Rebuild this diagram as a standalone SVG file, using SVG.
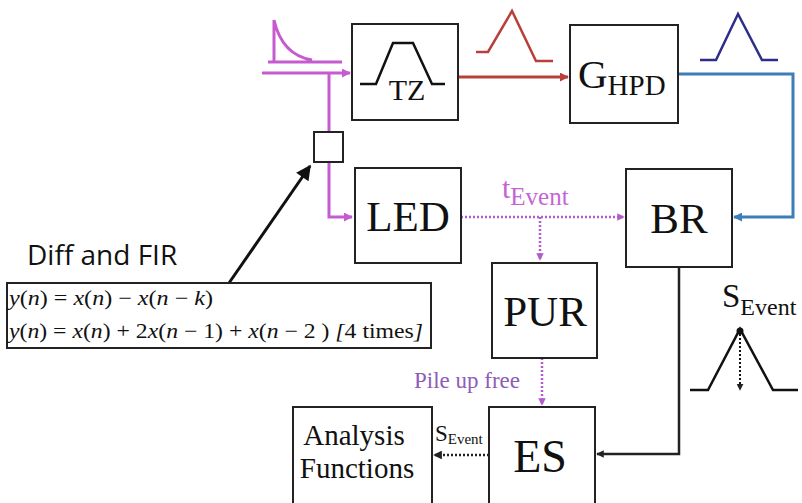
<svg xmlns="http://www.w3.org/2000/svg" width="802" height="503" viewBox="0 0 802 503">
<style>
.box{fill:#fff;stroke:#222;stroke-width:2}
.t{font-family:"Liberation Serif",serif;fill:#111}
.big{font-size:43px}
.mag{stroke:#c65bcf;stroke-width:3;fill:none}
.dot{stroke:#b25ccc;stroke-width:2.5;fill:none;stroke-dasharray:2 2}
.eq{font-family:"Liberation Serif",serif;font-size:21px;fill:#111}
.i{font-style:italic}
</style>
<defs>
<marker id="am" viewBox="0 0 10 10" refX="9" refY="5" markerWidth="3" markerHeight="3" orient="auto"><path d="M0,0L10,5L0,10z" fill="#c65bcf"/></marker>
<marker id="ar" viewBox="0 0 10 10" refX="9" refY="5" markerWidth="3" markerHeight="3" orient="auto"><path d="M0,0L10,5L0,10z" fill="#b8403a"/></marker>
<marker id="ab" viewBox="0 0 10 10" refX="9" refY="5" markerWidth="3" markerHeight="3" orient="auto"><path d="M0,0L10,5L0,10z" fill="#3d7db8"/></marker>
<marker id="ak" viewBox="0 0 10 10" refX="9" refY="5" markerWidth="3" markerHeight="3" orient="auto"><path d="M0,0L10,5L0,10z" fill="#222"/></marker>
<marker id="ap" viewBox="0 0 10 10" refX="9" refY="5" markerWidth="3" markerHeight="3" orient="auto"><path d="M0,0L10,5L0,10z" fill="#b25ccc"/></marker>
<marker id="akd" viewBox="0 0 10 10" refX="9" refY="5" markerWidth="3.5" markerHeight="3.5" orient="auto"><path d="M0,0L10,5L0,10z" fill="#222"/></marker>
<marker id="abig" viewBox="0 0 10 10" refX="9" refY="5" markerWidth="6" markerHeight="5" orient="auto"><path d="M0,0L10,5L0,10z" fill="#111"/></marker>
</defs>

<g id="connectors">
  <path class="mag" d="M262,73H350" marker-end="url(#am)"/>
  <path class="mag" d="M329,73V132"/>
  <path class="mag" d="M329,162V217H352" marker-end="url(#am)"/>
  <path d="M458,77H568" stroke="#b8403a" stroke-width="3" fill="none" marker-end="url(#ar)"/>
  <path d="M679,74H793V217H734" stroke="#3d7db8" stroke-width="3" fill="none" marker-end="url(#ab)"/>
  <path class="dot" d="M461,217H624" marker-end="url(#ap)"/>
  <path class="dot" d="M540,217V260" marker-end="url(#ap)"/>
  <path class="dot" d="M542,358V405" marker-end="url(#ap)"/>
  <path d="M679,267V454H597" stroke="#222" stroke-width="2.5" fill="none" marker-end="url(#ak)"/>
  <path d="M489,455H434" stroke="#222" stroke-width="2.5" stroke-dasharray="2 2" fill="none" marker-end="url(#akd)"/>
  <path d="M229,283L310,166" stroke="#111" stroke-width="3" fill="none" marker-end="url(#abig)"/>
</g>

<g id="pulse-in">
  <path class="mag" stroke-width="2.5" d="M268,62H342M274,62V20Q282,55 312,60"/>
</g>
<g id="pulse-red">
  <path d="M476,52H488L512,11L536,61H553" stroke="#b8403a" stroke-width="2.5" fill="none"/>
</g>
<g id="pulse-blue">
  <path d="M700,60H716L738,14L762,60H778" stroke="#2e2e8a" stroke-width="2.5" fill="none"/>
</g>

<g id="TZ">
  <rect class="box" x="352" y="24" width="106" height="96"/>
  <path d="M360,84H376L393,43H413L432,84H445" stroke="#111" stroke-width="2.5" fill="none"/>
  <text class="t" x="407" y="100" font-size="30" text-anchor="middle">TZ</text>
</g>

<g id="GHPD">
  <rect class="box" x="570" y="25" width="108" height="98"/>
  <text class="t" x="578" y="88" font-size="41">G<tspan font-size="29" dy="7">HPD</tspan></text>
</g>

<g id="junction">
  <rect class="box" x="314" y="132" width="29" height="30"/>
</g>

<g id="LED">
  <rect class="box" x="355" y="168" width="106" height="95"/>
  <text class="t big" x="408" y="231" text-anchor="middle">LED</text>
</g>

<g id="tEvent-label">
  <text class="t" x="502" y="198" font-size="30" style="fill:#c465d4">t<tspan font-size="25" dy="7">Event</tspan></text>
</g>

<g id="BR">
  <rect class="box" x="626" y="169" width="106" height="98"/>
  <text class="t big" x="679" y="233" text-anchor="middle">BR</text>
</g>

<g id="PUR">
  <rect class="box" x="492" y="263" width="105" height="95"/>
  <text class="t big" x="545" y="326" text-anchor="middle">PUR</text>
</g>

<g id="pileup-label">
  <text class="t" x="467" y="388" font-size="23" text-anchor="middle" style="fill:#8e5cb8">Pile up free</text>
</g>

<g id="ES">
  <rect class="box" x="489" y="407" width="106" height="100"/>
  <text class="t" x="540" y="472" font-size="46" text-anchor="middle">ES</text>
</g>

<g id="Analysis">
  <rect class="box" x="293" y="407" width="139" height="100"/>
  <text class="t" x="354" y="445" font-size="29" text-anchor="middle">Analysis</text>
  <text class="t" x="357" y="478" font-size="29" text-anchor="middle">Functions</text>
</g>

<g id="SEvent-left">
  <text class="t" x="435" y="441" font-size="23">S<tspan font-size="15" dy="3">Event</tspan></text>
</g>

<g id="SEvent-right">
  <text class="t" x="722" y="307" font-size="33">S<tspan font-size="24" dy="8">Event</tspan></text>
  <path d="M690,390H708L740,329L773,390H798" stroke="#111" stroke-width="2.5" fill="none"/>
  <circle cx="740" cy="331" r="3.5" fill="#111"/>
  <path d="M740,334V390" stroke="#111" stroke-width="2" stroke-dasharray="2 2" fill="none" marker-end="url(#akd)"/>
</g>

<g id="DiffFIR">
  <text x="27" y="265" font-family="'Open Sans',sans-serif" font-size="28" fill="#111">Diff and FIR</text>
  <rect class="box" x="7" y="283" width="424" height="65"/>
  <text class="eq" x="9" y="305" textLength="204" lengthAdjust="spacingAndGlyphs"><tspan class="i">y</tspan>(<tspan class="i">n</tspan>) = <tspan class="i">x</tspan>(<tspan class="i">n</tspan>) − <tspan class="i">x</tspan>(<tspan class="i">n</tspan> − <tspan class="i">k</tspan>)</text>
  <text class="eq" x="9" y="338" textLength="414" lengthAdjust="spacingAndGlyphs"><tspan class="i">y</tspan>(<tspan class="i">n</tspan>) = <tspan class="i">x</tspan>(<tspan class="i">n</tspan>) + 2<tspan class="i">x</tspan>(<tspan class="i">n</tspan> − 1) + <tspan class="i">x</tspan>(<tspan class="i">n</tspan> − 2 )  <tspan class="i">[</tspan>4 times<tspan class="i">]</tspan></text>
</g>
</svg>
